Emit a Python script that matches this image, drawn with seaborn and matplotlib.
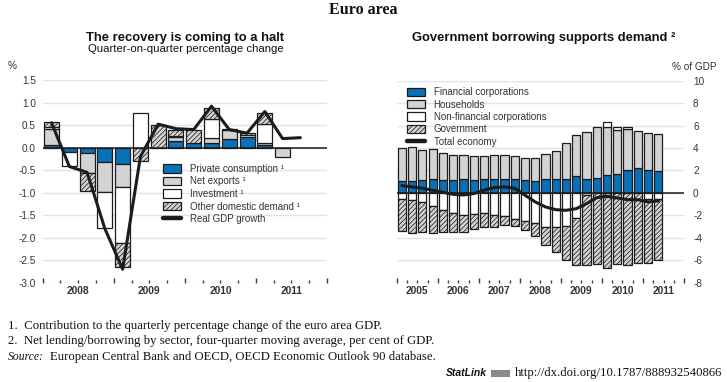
import numpy as np
import pandas as pd
import matplotlib
matplotlib.use("Agg")
import matplotlib.pyplot as plt
import seaborn as sns
from matplotlib.patches import Patch, Rectangle
from matplotlib.lines import Line2D
import matplotlib.transforms as mtransforms

# left panel: contributions to q-o-q GDP growth, 2008Q1-2011Q2 (GDP to 2011Q3)
left_years = ["2008", "2009", "2010", "2011"]
private_cons = [0.05, -0.10, -0.11, -0.31, -0.36, 0.00, 0.00, 0.15, 0.11, 0.11, 0.18, 0.23, 0.06, 0.00]
net_exports = [0.37, 0.00, -0.45, -0.67, -0.51, 0.00, 0.00, 0.08, 0.00, 0.11, 0.21, 0.00, 0.04, -0.20]
investment = [0.03, -0.31, 0.00, -0.81, -1.24, 0.76, 0.00, 0.02, 0.00, 0.41, 0.00, 0.04, 0.42, 0.00]
other_dom = [0.12, 0.00, -0.40, 0.00, -0.53, -0.30, 0.51, 0.15, 0.29, 0.26, 0.02, 0.05, 0.24, 0.00]
real_gdp = [0.55, -0.42, -0.55, -1.80, -2.70, -0.20, 0.52, 0.42, 0.40, 0.92, 0.40, 0.32, 0.80, 0.20, 0.22]

# right panel: net lending/borrowing by sector, % of GDP, 2005Q1-2011Q2
right_years = ["2005", "2006", "2007", "2008", "2009", "2010", "2011"]
financial = [1.05, 1.10, 1.13, 1.20, 1.13, 1.15, 1.20, 1.17, 1.20, 1.20, 1.20, 1.28, 1.13,
             1.05, 1.25, 1.20, 1.28, 1.55, 1.28, 1.37, 1.64, 1.73, 2.08, 2.26, 2.08, 1.98]
households = [2.92, 2.96, 2.69, 2.70, 2.39, 2.20, 2.15, 2.08, 2.05, 2.14, 2.16, 2.05, 2.02,
              2.10, 2.25, 2.52, 3.21, 3.65, 4.17, 4.47, 4.20, 3.85, 3.58, 3.29, 3.23, 3.24]
non_financial = [-0.50, -0.67, -0.85, -1.12, -1.48, -1.83, -2.00, -1.90, -1.80, -2.00, -2.02, -2.28, -2.54,
                 -2.64, -3.06, -3.07, -2.92, -2.20, -0.15, 0.00, 0.44, 0.27, 0.19, 0.00, -0.55, -0.55]
government = [-2.89, -2.87, -2.60, -2.48, -2.02, -1.67, -1.52, -1.35, -1.20, -1.00, -0.80, -0.69, -0.73,
              -1.18, -1.54, -2.18, -3.03, -4.26, -6.26, -6.37, -6.67, -6.37, -6.46, -6.22, -5.67, -5.40]
total_economy = [0.65, 0.54, 0.42, 0.24, 0.06, -0.12, -0.18, -0.06, 0.24, 0.48, 0.54, 0.42, -0.20,
                 -0.80, -1.25, -1.49, -1.55, -1.40, -0.95, -0.42, -0.30, -0.45, -0.60, -0.60, -0.80, -0.71]

BLUE = "#0a70b7"
GREY = "#d3d3d4"
HATCHFACE = "#d4d4d4"
HATCH = "///////"
EDGE = "#1c1c1c"
GRID = "#dbe4f0"
TXT = "#333333"

sns.set_theme(style="white")
plt.rcParams["font.family"] = ["Liberation Sans", "DejaVu Sans"]
plt.rcParams["axes.unicode_minus"] = False
plt.rcParams["hatch.linewidth"] = 0.55
plt.rcParams["hatch.color"] = "#333333"


def stacked(ax, series, styles, width):
    n = len(series[0])
    x = np.arange(n)
    pos = np.zeros(n)
    neg = np.zeros(n)
    for vals, (fc, hatch) in zip(series, styles):
        vals = np.asarray(vals, dtype=float)
        bottom = np.where(vals >= 0, pos, neg)
        keep = vals != 0
        ax.bar(x[keep], vals[keep], bottom=bottom[keep], width=width, color=fc,
               hatch=hatch, edgecolor=EDGE, linewidth=0.9, zorder=2)
        pos += np.clip(vals, 0, None)
        neg += np.clip(vals, None, 0)


def style_axis(ax, nq, years):
    ax.set_xlim(-0.5, nq - 0.5)
    for s in ax.spines.values():
        s.set_visible(False)
    ax.yaxis.grid(True, color=GRID, linewidth=1.0)
    ax.xaxis.grid(False)
    ax.set_axisbelow(True)
    ax.axhline(0, color=EDGE, linewidth=1.1, zorder=2.5)
    ax.set_xticks(np.arange(-0.5, nq, 4))
    ax.set_xticks(np.arange(-0.5, nq, 1), minor=True)
    ax.set_xticklabels([])
    ax.tick_params(axis="x", which="major", bottom=True, direction="in", length=3.4,
                   width=1.0, color=TXT)
    ax.tick_params(axis="x", which="minor", bottom=True, direction="in", length=1.9,
                   width=1.0, color=TXT)
    trans = mtransforms.blended_transform_factory(ax.transData, ax.transAxes)
    for i, yr in enumerate(years):
        ax.text(4 * i + 1.5, -0.043, yr, transform=trans, ha="center", va="center",
                fontsize=7.4, fontweight="bold", color=TXT)
    ax.set_xlabel("")
    ax.set_ylabel("")


fig = plt.figure(figsize=(7.27, 3.82), dpi=100)
fig.patch.set_facecolor("white")

styles = [(BLUE, None), (GREY, None), ("white", None), (HATCHFACE, HATCH)]

# ---- left panel
ax1 = fig.add_axes([0.0587, 0.2599, 0.3911, 0.5306])
stacked(ax1, [private_cons, net_exports, investment, other_dom], styles, 0.84)
sns.lineplot(x=np.arange(len(real_gdp)), y=real_gdp, ax=ax1, color=EDGE, linewidth=2.2, zorder=4)
ax1.set_ylim(-3, 1.5)
ax1.set_yticks(np.arange(-3, 1.51, 0.5))
ax1.set_yticklabels([f"{v:.1f}" for v in np.arange(-3, 1.51, 0.5)])
ax1.tick_params(axis="y", length=0, pad=4.8, labelsize=7.2, labelcolor=TXT)
style_axis(ax1, 16, left_years)

h1 = [Patch(facecolor=BLUE, edgecolor=EDGE, linewidth=0.9),
      Patch(facecolor=GREY, edgecolor=EDGE, linewidth=0.9),
      Patch(facecolor="white", edgecolor=EDGE, linewidth=0.9),
      Patch(facecolor=HATCHFACE, edgecolor=EDGE, linewidth=0.9, hatch=HATCH),
      Line2D([0], [0], color=EDGE, linewidth=3.2)]
l1 = ["Private consumption \u00b9", "Net exports \u00b9", "Investment \u00b9",
      "Other domestic demand \u00b9", "Real GDP growth"]
leg1 = ax1.legend(h1, l1, loc="upper left", bbox_to_anchor=(0.424, 0.587), frameon=False,
                  fontsize=7, handlelength=1.85, handleheight=0.95, labelspacing=0.27,
                  handletextpad=0.9, borderpad=0, borderaxespad=0)
for t in leg1.get_texts():
    t.set_color(TXT)

# ---- right panel
ax2 = fig.add_axes([0.5457, 0.2599, 0.3952, 0.5288])
stacked(ax2, [financial, households, non_financial, government], styles, 0.8)
sns.lineplot(x=np.arange(len(total_economy)), y=total_economy, ax=ax2, color=EDGE,
             linewidth=2.2, zorder=4)
ax2.set_ylim(-8, 10)
ax2.set_yticks(np.arange(-8, 11, 2))
ax2.yaxis.tick_right()
ax2.tick_params(axis="y", length=0, pad=6.5, labelsize=7.2, labelcolor=TXT,
                labelright=True, labelleft=False)
style_axis(ax2, 28, right_years)

h2 = [Patch(facecolor=BLUE, edgecolor=EDGE, linewidth=0.9),
      Patch(facecolor=GREY, edgecolor=EDGE, linewidth=0.9),
      Patch(facecolor="white", edgecolor=EDGE, linewidth=0.9),
      Patch(facecolor=HATCHFACE, edgecolor=EDGE, linewidth=0.9, hatch=HATCH),
      Line2D([0], [0], color=EDGE, linewidth=3.2)]
l2 = ["Financial corporations", "Households", "Non-financial corporations",
      "Government", "Total economy"]
leg2 = ax2.legend(h2, l2, loc="upper left", bbox_to_anchor=(0.035, 0.968), frameon=False,
                  fontsize=7, handlelength=1.85, handleheight=0.95, labelspacing=0.24,
                  handletextpad=0.9, borderpad=0, borderaxespad=0)
for t in leg2.get_texts():
    t.set_color(TXT)

# ---- titles and units
W, H = 727.0, 382.0
fig.text(363 / W, 1 - 10 / H, "Euro area", ha="center", va="center", fontsize=11.5,
         fontweight="bold", family=["Liberation Serif", "DejaVu Serif"], color="#111111")
fig.text(185.5 / W, 1 - 38 / H, "The recovery is coming to a halt", ha="center", va="center",
         fontsize=9.4, fontweight="bold", color="#111111")
fig.text(185.5 / W, 1 - 49.5 / H, "Quarter-on-quarter percentage change", ha="center",
         va="center", fontsize=8.2, color="#111111")
fig.text(544 / W, 1 - 38 / H, "Government borrowing supports demand \u00b2", ha="center",
         va="center", fontsize=9.4, fontweight="bold", color="#111111")
fig.text(8 / W, 1 - 66 / H, "%", ha="left", va="center", fontsize=7.2, color=TXT)
fig.text(717 / W, 1 - 67 / H, "% of GDP", ha="right", va="center", fontsize=7.2, color=TXT)

# ---- notes
serif = ["Liberation Serif", "DejaVu Serif"]
fs = 9.2
fig.text(8 / W, 1 - 326 / H, "1.  Contribution to the quarterly percentage change of the euro area GDP.",
         ha="left", va="center", fontsize=fs, family=serif, color="#111111")
fig.text(8 / W, 1 - 341 / H, "2.  Net lending/borrowing by sector, four-quarter moving average, per cent of GDP.",
         ha="left", va="center", fontsize=fs, family=serif, color="#111111")
fig.text(8 / W, 1 - 357 / H, "Source:", ha="left", va="center", fontsize=8.4, family=serif,
         style="italic", color="#111111")
fig.text(50 / W, 1 - 357 / H, "European Central Bank and OECD, OECD Economic Outlook 90 database.",
         ha="left", va="center", fontsize=fs, family=serif, color="#111111")
fig.text(487 / W, 1 - 373 / H, "StatLink", ha="right", va="center", fontsize=7.5,
         fontweight="bold", style="italic", color="#111111")
fig.patches.append(Rectangle((491 / W, 1 - 377 / H), 19 / W, 7 / H, transform=fig.transFigure,
                             facecolor="#8a8a8a", edgecolor="none"))
fig.text(722 / W, 1 - 373 / H, "http://dx.doi.org/10.1787/888932540866", ha="right",
         va="center", fontsize=fs, family=serif, color="#111111")

fig.savefig("out.png", dpi=100, facecolor="white")
